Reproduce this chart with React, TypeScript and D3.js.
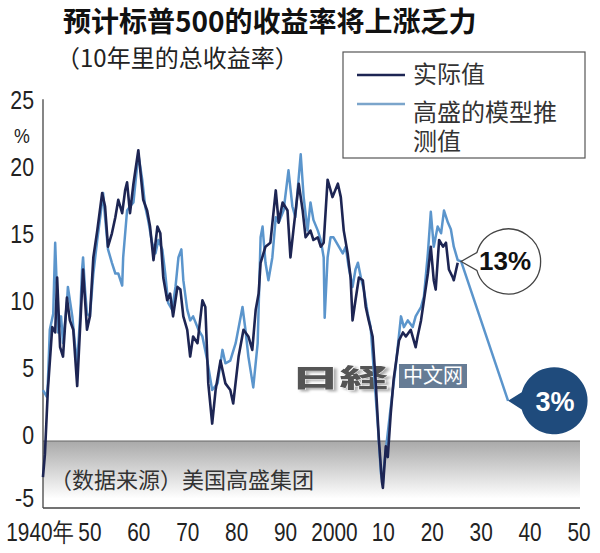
import React from "react";
import * as d3 from "d3";

const actualYears = [1940.4,1940.8,1941.4,1942.3,1942.9,1943.3,1943.9,1944.5,1945.3,1945.9,1946.6,1947.4,1948.0,1948.6,1949.4,1950.0,1950.7,1951.5,1952.5,1953.1,1953.7,1954.5,1955.2,1955.8,1956.6,1957.2,1957.6,1958.2,1958.9,1959.9,1960.3,1960.9,1961.7,1962.3,1963.0,1963.8,1964.4,1965.0,1965.8,1966.4,1967.0,1967.9,1968.5,1969.1,1969.9,1970.5,1971.1,1972.0,1973.0,1973.6,1974.2,1975.0,1975.7,1976.7,1977.7,1978.7,1979.3,1980.4,1981.4,1982.4,1983.2,1983.9,1984.5,1984.9,1985.9,1986.9,1988.0,1988.6,1989.4,1990.4,1991.0,1991.6,1992.7,1993.5,1994.1,1995.1,1995.7,1996.6,1997.2,1997.8,1998.6,1999.6,2000.7,2001.3,2001.9,2002.7,2003.3,2003.7,2004.3,2005.0,2005.8,2006.4,2007.0,2007.8,2008.4,2009.1,2009.7,2009.9,2010.5,2010.9,2011.5,2012.1,2013.2,2014.0,2014.6,2015.6,2016.6,2017.0,2017.7,2018.3,2019.1,2019.7,2020.3,2020.7,2021.4,2022.2,2022.8,2023.4,2024.2,2024.4,2025.2];
const actualValues = [-2.7,-1.0,3.8,8.5,8.1,12.2,7.0,6.3,10.7,9.0,8.3,4.1,8.5,12.8,8.3,9.3,13.7,15.7,18.5,17.5,14.5,15.5,16.7,18.0,17.0,18.7,19.3,17.0,19.2,21.7,20.2,18.0,17.2,16.0,13.5,16.0,15.5,12.2,10.5,11.0,9.3,11.5,11.3,9.3,8.3,6.3,7.8,7.3,10.5,10.0,4.3,1.3,3.8,6.0,4.3,3.8,2.8,6.3,8.3,7.8,6.8,9.8,11.0,13.3,14.5,14.8,18.7,16.3,17.8,17.2,13.7,15.7,19.2,17.2,15.2,15.7,15.0,15.2,14.5,14.8,19.5,18.2,19.2,18.2,15.7,14.0,12.2,9.0,10.5,12.2,12.0,10.0,9.0,7.8,4.6,0.0,-3.0,-3.5,-0.4,-1.2,2.0,4.6,7.5,8.1,7.8,8.3,7.0,7.8,9.0,10.5,12.5,14.5,12.0,11.3,15.0,14.5,14.8,12.8,12.2,12.0,13.3];

const modelYears = [1940.4,1941.2,1941.4,1941.8,1942.5,1942.9,1943.3,1943.5,1944.1,1944.5,1945.3,1945.5,1946.4,1947.0,1947.4,1948.0,1948.4,1948.6,1949.0,1949.4,1950.0,1950.7,1951.5,1952.1,1952.7,1953.1,1953.7,1954.5,1955.2,1955.8,1956.6,1956.8,1957.6,1958.2,1958.9,1959.9,1960.7,1961.3,1961.9,1962.7,1963.4,1964.0,1964.8,1965.4,1966.0,1966.8,1967.5,1968.1,1968.7,1969.1,1969.9,1970.5,1971.1,1972.2,1973.0,1974.0,1975.0,1976.1,1977.1,1977.7,1978.7,1979.8,1981.2,1981.8,1982.4,1983.4,1984.3,1984.9,1985.3,1985.9,1986.5,1987.3,1988.0,1988.6,1989.6,1990.6,1991.4,1992.0,1993.1,1993.7,1994.5,1995.1,1995.7,1996.6,1997.2,1997.8,1998.0,1998.6,1999.2,1999.8,2000.9,2001.7,2002.3,2002.9,2003.7,2004.3,2004.8,2005.4,2006.0,2006.8,2007.4,2008.0,2008.9,2009.5,2009.9,2010.1,2010.9,2011.5,2012.5,2013.6,2014.2,2015.0,2016.0,2016.6,2017.7,2018.3,2019.1,2019.7,2020.3,2021.1,2021.8,2022.4,2023.2,2023.8,2024.4,2025.2,2025.9,2035.5];
const modelValues = [3.8,3.3,4.3,8.3,9.5,14.8,10.7,8.1,9.3,7.3,10.3,11.5,9.3,7.0,5.8,9.3,12.8,13.7,11.3,9.5,9.3,12.5,15.0,16.7,18.5,16.7,14.3,13.3,12.5,12.5,11.6,13.7,17.2,17.5,17.8,21.4,19.5,17.5,16.5,14.8,14.0,15.0,14.3,12.5,10.3,9.8,11.5,13.7,14.3,12.0,9.8,9.0,9.3,8.3,7.8,6.0,3.8,4.3,6.8,5.8,6.0,7.3,10.0,8.3,6.3,4.0,7.3,15.2,16.0,13.3,12.0,13.7,16.7,16.3,17.2,20.2,17.5,16.7,21.4,18.2,15.7,17.8,16.5,15.7,15.0,13.7,9.2,13.7,15.2,15.2,14.5,14.0,14.5,13.0,11.5,12.8,13.3,12.2,11.3,9.5,8.5,5.5,1.0,-2.4,-3.2,-2.0,0.6,2.5,5.5,9.3,8.5,9.0,8.5,9.3,10.0,10.8,14.0,17.1,14.5,16.0,15.5,17.2,16.3,15.8,14.5,13.5,13.4,3.0];

const xTickYears = [1940, 1950, 1960, 1970, 1980, 1990, 2000, 2010, 2020, 2030, 2040, 2050];
const xTickLabels = ["1940年", "50", "60", "70", "80", "90", "2000", "10", "20", "30", "40", "50"];
const yTickValues = [25, 20, 15, 10, 5, 0, -5];

const titleText = "预计标普500的收益率将上涨乏力";
const subtitleText = "（10年里的总收益率）";
const legendLabels = ["实际值", "高盛的模型推", "测值"];
const sourceText = "（数据来源）美国高盛集团";
const currentLabel = "13%";
const forecastLabel = "3%";
const watermarkLogo = "日経";
const watermarkText = "中文网";

const DARK = "#1d2553";
const LIGHT = "#5b95cc";
const CJK = "'Noto Sans CJK SC', 'Noto Sans', sans-serif";
const NUM = "'Liberation Sans', Arial, sans-serif";

function calloutPath(cx: number, cy: number, r: number, tx: number, ty: number, half: number) {
  const a1 = Math.PI - half;
  const a2 = Math.PI + half;
  const p1 = [cx + r * Math.cos(a1), cy + r * Math.sin(a1)];
  const p2 = [cx + r * Math.cos(a2), cy + r * Math.sin(a2)];
  return `M${tx},${ty}L${p1[0]},${p1[1]}A${r},${r} 0 1 0 ${p2[0]},${p2[1]}Z`;
}

export default function App() {
  const W = 600, H = 553;
  const x = d3.scaleLinear().domain([1940, 2050]).range([41, 579]);
  const y = d3.scaleLinear().domain([-5, 25]).range([508, 106]);

  const actual = actualYears.map((yr, i) => [yr, actualValues[i]] as [number, number]);
  const model = modelYears.map((yr, i) => [yr, modelValues[i]] as [number, number]);
  const line = d3.line<[number, number]>().x(d => x(d[0])).y(d => y(d[1]));

  const axisLeft = 43;
  const axisRight = x(2050) + 1;
  const lastModel = model[model.length - 2];
  const endModel = model[model.length - 1];

  const c1x = x(lastModel[0]) + 47, c1y = y(lastModel[1]);
  const c2x = x(endModel[0]) + 46, c2y = y(endModel[1]);

  return (
    <svg width={W} height={H} viewBox={`0 0 ${W} ${H}`} style={{ position: "absolute", left: 0, top: 0, background: "#fff" }}>
      <defs>
        <linearGradient id="band" x1="0" y1="0" x2="0" y2="1">
          <stop offset="0%" stopColor="#a9a9a9" />
          <stop offset="100%" stopColor="#ffffff" />
        </linearGradient>
        <filter id="wmshadow" x="-10%" y="-20%" width="130%" height="150%">
          <feDropShadow dx="2" dy="2" stdDeviation="1" floodColor="#999" floodOpacity="0.8" />
        </filter>
      </defs>
      <rect x={0} y={0} width={W} height={H} fill="#fff" />

      {/* title */}
      <text x={63} y={32} fontFamily={CJK} fontWeight={700} fontSize={28} fill="#111">{titleText}</text>
      <text x={56} y={67} fontFamily={CJK} fontSize={24} fill="#222">{subtitleText}</text>

      {/* negative band */}
      <rect x={axisLeft} y={y(0)} width={axisRight - axisLeft} height={y(-4.3) - y(0)} fill="url(#band)" />
      <line x1={axisLeft} x2={axisRight} y1={y(0)} y2={y(0)} stroke="#666" strokeWidth={1.2} />

      {/* axes */}
      <line x1={axisLeft} x2={axisLeft} y1={y(25.5)} y2={y(-5)} stroke="#444" strokeWidth={1.3} />
      <line x1={axisLeft} x2={axisRight} y1={y(-5)} y2={y(-5)} stroke="#444" strokeWidth={1.3} />

      {yTickValues.map(v => (
        <text key={v} transform={`translate(34,${y(v) + 3 - (v === -5 ? 4 : 0)}) scale(0.82,1)`} textAnchor="end" fontFamily={NUM} fontSize={26} fill="#222">{v}</text>
      ))}
      <text transform={`translate(22,${y(22.6) + 5}) scale(0.85,1)`} textAnchor="middle" fontFamily={NUM} fontSize={21} fill="#222">%</text>

      {xTickYears.map((yr, i) => (
        <text key={yr} transform={`translate(${x(yr) + (i === 0 ? -1 : 0)},541) scale(0.8,1)`} textAnchor="middle" fontFamily={NUM} fontSize={26} fill="#222">{xTickLabels[i]}</text>
      ))}

      {/* source */}
      <text x={50} y={488} fontFamily={CJK} fontSize={22} fill="#333">{sourceText}</text>

      {/* watermark */}
      <g>
        <text transform="translate(291,387) scale(1.62,0.85)" fontFamily="'Noto Sans CJK JP', sans-serif" fontWeight={900} fontSize={30} fill="#555" stroke="#fff" strokeWidth={0.8} paintOrder="stroke" filter="url(#wmshadow)">{watermarkLogo}</text>
        <rect x={399} y={364} width={68} height={24} fill="#667c95" />
        <text x={433} y={383} textAnchor="middle" fontFamily={CJK} fontSize={20} fill="#fff">{watermarkText}</text>
      </g>

      {/* series */}
      <path d={line(model) || ""} fill="none" stroke={LIGHT} strokeWidth={2.5} strokeLinejoin="round" />
      <path d={line(actual) || ""} fill="none" stroke={DARK} strokeWidth={2.6} strokeLinejoin="round" />

      {/* callouts */}
      <path d={calloutPath(c1x, c1y, 32.5, x(lastModel[0]), y(lastModel[1]), 0.28)} fill="#fff" stroke="#444" strokeWidth={1.3} />
      <text x={c1x - 3} y={c1y + 9} textAnchor="middle" fontFamily={NUM} fontWeight={700} fontSize={26} fill="#111">{currentLabel}</text>
      <path d={calloutPath(c2x, c2y, 33.5, x(endModel[0]), y(endModel[1]), 0.26)} fill="#1f4b7c" />
      <text x={c2x + 1} y={c2y + 10} textAnchor="middle" fontFamily={NUM} fontWeight={700} fontSize={27} fill="#fff">{forecastLabel}</text>

      {/* legend */}
      <rect x={343} y={52} width={242} height={106} fill="#fff" stroke="#555" strokeWidth={1.2} />
      <line x1={357} x2={405} y1={75} y2={75} stroke={DARK} strokeWidth={2.6} />
      <line x1={357} x2={405} y1={104} y2={104} stroke="#7ba5cb" strokeWidth={2.6} />
      <text x={413} y={83} fontFamily={CJK} fontSize={24} fill="#333">{legendLabels[0]}</text>
      <text x={413} y={121} fontFamily={CJK} fontSize={24} fill="#333">
        <tspan x={413} y={121}>{legendLabels[1]}</tspan>
        <tspan x={413} y={150}>{legendLabels[2]}</tspan>
      </text>
    </svg>
  );
}
